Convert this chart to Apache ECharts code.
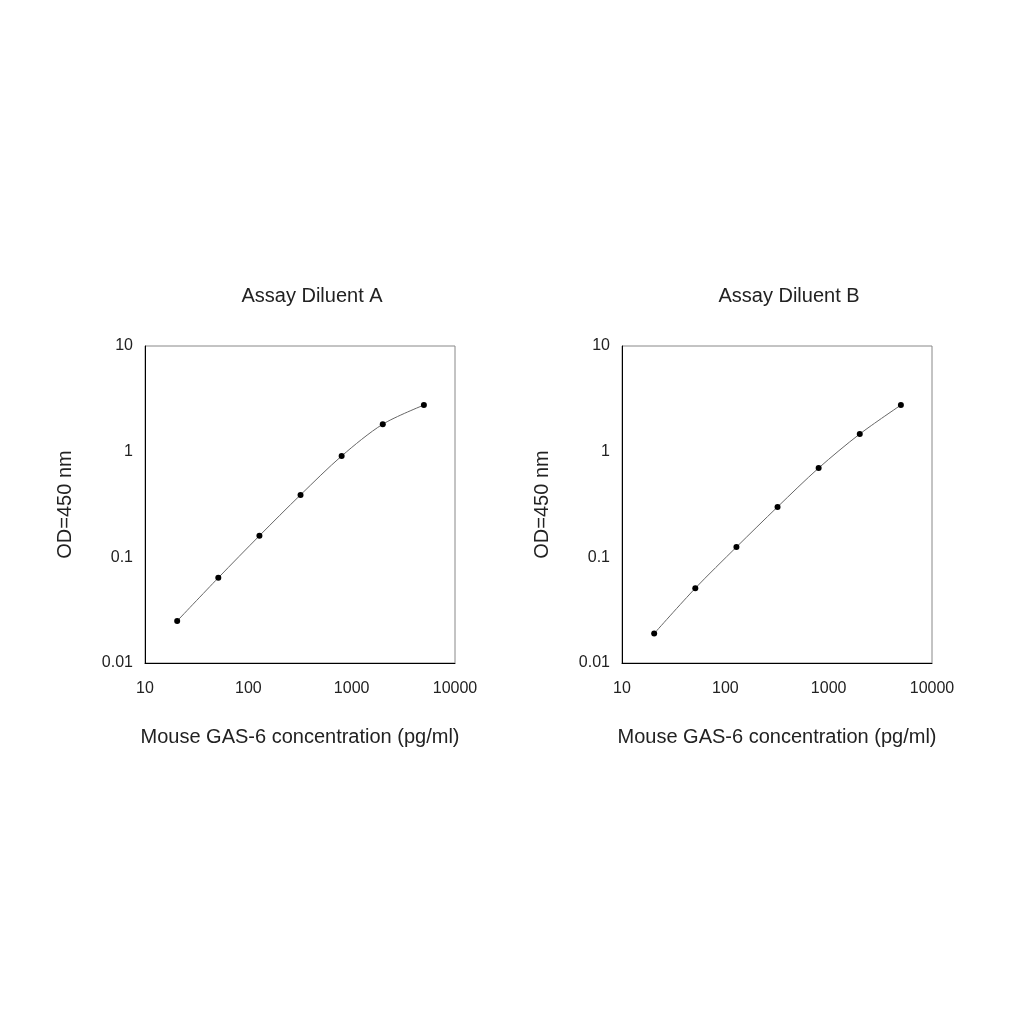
<!DOCTYPE html>
<html><head><meta charset="utf-8">
<script src="https://cdn.jsdelivr.net/npm/echarts@6/dist/echarts.min.js"></script>
<style>html,body{margin:0;background:#fff}#c{width:1024px;height:1024px}</style>
</head><body><div id="c"></div>
<script>
const titles = ["Assay Diluent A", "Assay Diluent B"];
const conc = [20.48, 51.2, 128, 320, 800, 2000, 5000];
const odA = [0.025, 0.064, 0.16, 0.39, 0.91, 1.82, 2.76];
const odB = [0.019, 0.051, 0.125, 0.30, 0.70, 1.47, 2.76];
const xName = "Mouse GAS-6 concentration (pg/ml)";
const yName = "OD=450 nm";

const chart = echarts.init(document.getElementById('c'));
const lefts = [145, 622];
const font = 'Liberation Sans, Arial, sans-serif';
const mkX = i => ({gridIndex:i, type:'log', logBase:10, min:10, max:10000,
  name:xName, nameLocation:'middle', nameGap:64, nameTextStyle:{fontSize:20,color:'#222',fontFamily:font},
  axisLine:{lineStyle:{color:'#000'}}, axisTick:{show:false}, splitLine:{show:false},
  axisLabel:{fontSize:16,color:'#222',fontFamily:font,margin:18,formatter:v=>String(Math.round(v))}});
const mkY = i => ({gridIndex:i, type:'log', logBase:10, min:0.01, max:10,
  name:yName, nameLocation:'middle', nameGap:70, nameTextStyle:{fontSize:20,color:'#222',fontFamily:font},
  axisLine:{lineStyle:{color:'#000'}}, axisTick:{show:false}, splitLine:{show:false},
  axisLabel:{fontSize:16,color:'#222',fontFamily:font,margin:12,
    formatter:v=>String(+v.toPrecision(3))}});
const mkS = (i,d) => ({type:'line', xAxisIndex:i, yAxisIndex:i,
  data: conc.map((c,k)=>[c,d[k]]), smooth:0.3, symbol:'circle', symbolSize:6,
  itemStyle:{color:'#000'}, lineStyle:{color:'#666',width:1}});
chart.setOption({
  animation:false,
  title: titles.map((t,i)=>({text:t, left:lefts[i]+162, top:281, textAlign:'center',
    textStyle:{fontSize:20,fontWeight:'normal',color:'#222',fontFamily:font}})),
  grid: lefts.map(l=>({left:l, top:346, width:310, height:317, show:true, borderColor:'#888', borderWidth:1})),
  xAxis:[mkX(0),mkX(1)],
  yAxis:[mkY(0),mkY(1)],
  series:[mkS(0,odA), mkS(1,odB)]
});
</script></body></html>
